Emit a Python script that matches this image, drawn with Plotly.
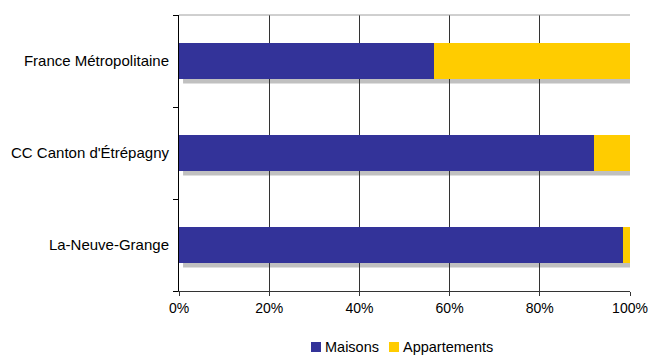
import plotly.graph_objects as go

# Répartition des logements par type (en %)
territoires = ["La-Neuve-Grange", "CC Canton d'Étrépagny", "France Métropolitaine"]
maisons = [98.4, 92.0, 56.6]
appartements = [1.6, 8.0, 43.4]
series_noms = ["Maisons", "Appartements"]
series_couleurs = ["#333399", "#FFCC00"]
x_ticks = [0, 20, 40, 60, 80, 100]
x_tick_labels = ["0%", "20%", "40%", "60%", "80%", "100%"]

W, H = 650, 356
ML, MR, MT, MB = 179, 20, 15, 65
PLOT_H = H - MT - MB
BAR_W = 0.4
FONT = "Liberation Sans, Arial, sans-serif"

fig = go.Figure()
for nom, valeurs, couleur in zip(series_noms, [maisons, appartements], series_couleurs):
    fig.add_trace(go.Bar(y=territoires, x=valeurs, name=nom, orientation="h",
                         marker=dict(color=couleur, line=dict(width=0)), width=BAR_W,
                         showlegend=False))

# Ombre portée sous chaque barre empilée
for i, (m, a) in enumerate(zip(maisons, appartements)):
    fig.add_shape(type="rect", xref="x", yref="y", layer="below",
                  x0=0.9, x1=m + a, y0=i - BAR_W / 2 - 0.045, y1=i + BAR_W / 2 - 0.045,
                  fillcolor="#C0C0C0", line=dict(width=0))

# Bord supérieur de la zone de tracé
fig.add_shape(type="line", xref="paper", yref="paper", x0=0, x1=1, y0=1, y1=1,
              line=dict(color="#A0A0A0", width=1))


def py(px_from_top):
    """Pixel row in the page -> paper y coordinate."""
    return (H - MB - px_from_top) / PLOT_H


def px(px_from_left):
    """Pixel column in the page -> paper x coordinate."""
    return (px_from_left - ML) / (W - ML - MR)


# Légende centrée sous l'axe des abscisses
legende_x = [311, 389]
for x0, nom, couleur in zip(legende_x, series_noms, series_couleurs):
    fig.add_shape(type="rect", xref="paper", yref="paper",
                  x0=px(x0), x1=px(x0 + 10), y0=py(352), y1=py(342),
                  fillcolor=couleur, line=dict(width=0))
    fig.add_annotation(text=nom, xref="paper", yref="paper", x=px(x0 + 12), y=py(347),
                       xanchor="left", yanchor="middle", showarrow=False,
                       font=dict(family=FONT, size=14.5, color="black"))

fig.update_layout(
    barmode="stack",
    width=W, height=H,
    margin=dict(l=ML, r=MR, t=MT, b=MB),
    paper_bgcolor="white", plot_bgcolor="white",
    font=dict(family=FONT, size=14, color="black"),
    showlegend=False,
    xaxis=dict(range=[0, 100], tickvals=x_ticks, ticktext=x_tick_labels,
               showgrid=True, gridcolor="#333333", gridwidth=1,
               showline=True, linecolor="#333333", linewidth=1,
               ticks="outside", ticklen=4, tickcolor="#333333",
               tickfont=dict(size=14),
               zeroline=False, fixedrange=True, automargin=False),
    yaxis=dict(type="category", categoryorder="array", categoryarray=territoires,
               showline=True, linecolor="black", linewidth=1,
               ticks="outside", ticklen=5, tickcolor="black", tickson="boundaries",
               tickfont=dict(size=15),
               showgrid=False, ticklabelstandoff=6, fixedrange=True, automargin=False),
)

fig.write_html("out.html")
